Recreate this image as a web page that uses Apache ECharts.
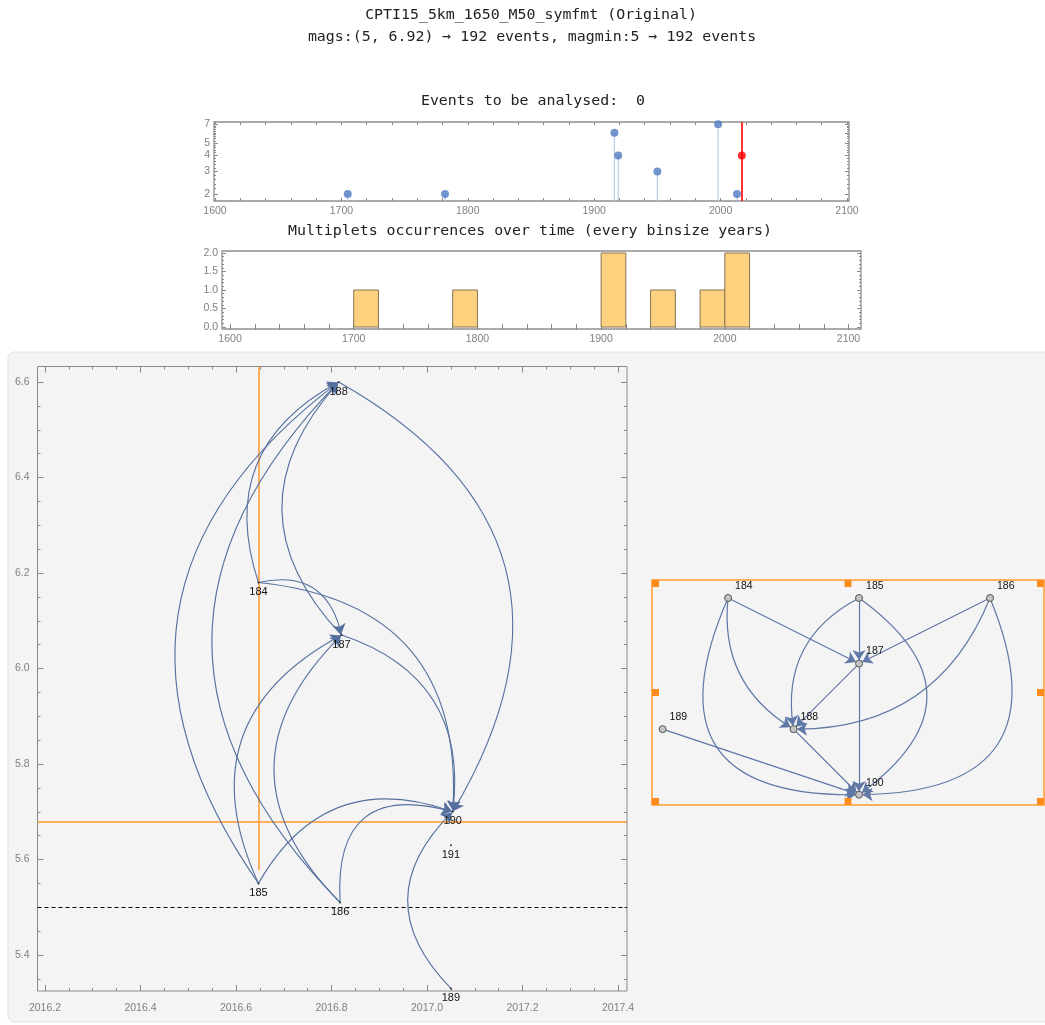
<!DOCTYPE html>
<html><head><meta charset="utf-8">
<script src="https://cdn.jsdelivr.net/npm/echarts@6/dist/echarts.min.js"></script>
<style>html,body{margin:0;padding:0;background:#fff}#c{width:1045px;height:1025px}</style>
</head><body><div id="c"></div>
<script>
// ---------------- data ----------------
const titleLine1 = 'CPTI15_5km_1650_M50_symfmt (Original)';
const titleLine2 = 'mags:(5, 6.92) \u2192 192 events, magmin:5 \u2192 192 events';
const stemTitle = 'Events to be analysed:  0';
const histTitle = 'Multiplets occurrences over time (every binsize years)';

const stemYears = [1705, 1782, 1916, 1919, 1950, 1998, 2013];
const stemSizes = [2, 2, 6, 4, 3, 7, 2];
const currentYear = 2016.8;
const currentSize = 4;
const stemYTicks = [2, 3, 4, 5, 6, 7];
const yearTicks = [1600, 1700, 1800, 1900, 2000, 2100];

const binStarts = [1700, 1780, 1900, 1940, 1980, 2000];
const binCounts = [1, 1, 2, 1, 1, 2];
const binSize = 20;
const histYTicks = [0, 0.5, 1, 1.5, 2];

const eventIds   = ['184', '185', '186', '187', '188', '189', '190', '191'];
const eventTimes = [2016.647, 2016.647, 2016.818, 2016.821, 2016.815, 2017.050, 2017.054, 2017.050];
const eventMags  = [6.18, 5.55, 5.51, 6.07, 6.60, 5.33, 5.70, 5.63];
const edgeFrom = ['184', '184', '184', '185', '185', '185', '186', '186', '186', '187', '187', '188', '189'];
const edgeTo   = ['187', '188', '190', '187', '188', '190', '187', '188', '190', '188', '190', '190', '190'];

const timeTicks = [2016.2, 2016.4, 2016.6, 2016.8, 2017.0, 2017.2, 2017.4];
const magTicks = [5.4, 5.6, 5.8, 6.0, 6.2, 6.4, 6.6];
const refTime = 2016.647;
const refTimeMagLow = 5.578;
const refMag = 5.679;
const magThreshold = 5.5;

const layerNodes = ['184', '185', '186', '187', '188', '189', '190'];
const layerCol = [1, 3, 5, 3, 2, 0, 3];
const layerRow = [0, 0, 0, 1, 2, 2, 3];

// ---------------- styling ----------------
const mainCurve = {'184-187':0.5,'184-188':0.42,'184-190':0.48,'185-187':0.47,'185-188':0.48,'185-190':0.42,
  '186-187':0.5,'186-188':0.49,'186-190':0.7,'187-188':0.46,'187-190':0.41,'188-190':0.51,'189-190':0.5};
const layerCurve = {'184-188':-0.32,'184-190':-0.78,'185-188':-0.36,'185-190':0.69,'186-188':0.34,'186-190':0.74};

const STEM_X = [1599.2, 2101.6], STEM_Y = [0.247, 0.862];
const HIST_X = [1593.5, 2110.1], HIST_Y = [-0.054, 2.054];
const MAIN_X = [2016.1843, 2017.4188], MAIN_Y = [5.3246, 6.6325];

function range(a, b, s) { const r = []; for (let v = a; v <= b + 1e-9; v += s) r.push(+v.toFixed(6)); return r; }
const labelFont = {fontFamily: 'Liberation Sans, Arial, sans-serif', color: '#808080'};

function ax(dim, grid, pos, ext, labels, ticks, len, fmt, fs, margin) {
  return {
    type: 'value', gridIndex: grid, position: pos, min: ext[0], max: ext[1], scale: true,
    axisLine: {show: false}, splitLine: {show: false},
    axisTick: {show: true, inside: true, length: len, customValues: ticks, lineStyle: {color: '#8a8a8a', width: 1}},
    axisLabel: labels ? Object.assign({show: true, customValues: labels, formatter: fmt, fontSize: fs, margin: margin,
      hideOverlap: false, showMinLabel: true, showMaxLabel: true}, labelFont) : {show: false}
  };
}
const f0 = v => String(Math.round(v));
const f1 = v => (+v).toFixed(1);
const flog = v => String(Math.round(Math.pow(10, v)));

const stemMinor = range(1.8, 7.4, 0.2).map(v => Math.log10(v));
const stemMajor = stemYTicks.map(v => Math.log10(v));
const xAxes = [
  ax('x', 0, 'bottom', STEM_X, yearTicks, range(1600, 2100, 20), 3, f0, 10.5, 5),   //0
  ax('x', 0, 'top', STEM_X, null, range(1600, 2100, 20), 3),                         //1
  ax('x', 1, 'bottom', HIST_X, yearTicks, range(1600, 2100, 20), 3, f0, 10.5, 5),   //2
  ax('x', 1, 'top', HIST_X, null, range(1600, 2100, 20), 3),                         //3
  ax('x', 2, 'bottom', MAIN_X, timeTicks, timeTicks, 6, f1, 10.5, 12),               //4
  ax('x', 2, 'bottom', MAIN_X, null, range(2016.2, 2017.4, 0.05), 3),               //5
  ax('x', 2, 'top', MAIN_X, null, timeTicks, 6),                                     //6
  ax('x', 2, 'top', MAIN_X, null, range(2016.2, 2017.4, 0.05), 3),                  //7
  {type: 'value', gridIndex: 3, min: 0, max: 5, show: false}                         //8
];
const yAxes = [
  ax('y', 0, 'left', STEM_Y, stemMajor, stemMajor, 4, flog, 10.5, 4),              //0
  ax('y', 0, 'left', STEM_Y, null, stemMinor, 2),                                    //1
  ax('y', 0, 'right', STEM_Y, null, stemMajor, 4),                                   //2
  ax('y', 0, 'right', STEM_Y, null, stemMinor, 2),                                   //3
  ax('y', 1, 'left', HIST_Y, histYTicks, histYTicks, 4, f1, 10.5, 4),                //4
  ax('y', 1, 'left', HIST_Y, null, range(0, 2, 0.1), 2),                             //5
  ax('y', 1, 'right', HIST_Y, null, histYTicks, 4),                                  //6
  ax('y', 1, 'right', HIST_Y, null, range(0, 2, 0.1), 2),                            //7
  ax('y', 2, 'left', MAIN_Y, magTicks, magTicks, 6, f1, 10.5, 8),                    //8
  ax('y', 2, 'left', MAIN_Y, null, range(5.35, 6.6, 0.05), 3),                       //9
  ax('y', 2, 'right', MAIN_Y, null, magTicks, 6),                                    //10
  ax('y', 2, 'right', MAIN_Y, null, range(5.35, 6.6, 0.05), 3),                      //11
  {type: 'value', gridIndex: 3, min: 0, max: 3, inverse: true, show: false}          //12
];

const stemData = stemYears.map((y, i) => [y, Math.log10(stemSizes[i])]);
const histData = binStarts.map((s, i) => [s, s + binSize, binCounts[i]]);

const mainNodes = eventIds.map((id, i) => ({name: id, value: [eventTimes[i], eventMags[i]]}));
const mainLinks = edgeFrom.map((s, i) => ({source: s, target: edgeTo[i],
  lineStyle: {curveness: mainCurve[s + '-' + edgeTo[i]] || 0}}));
const layerData = layerNodes.map((id, i) => ({name: id, value: [layerCol[i], layerRow[i]]}));
const layerLinks = edgeFrom.map((s, i) => ({source: s, target: edgeTo[i],
  lineStyle: {curveness: layerCurve[s + '-' + edgeTo[i]] || 0}}));

const mono = '"DejaVu Sans Mono", monospace';
function txt(t, x, y) {
  return {type: 'text', x: x, y: y, z: 50, silent: true,
    style: {text: t, fontSize: 14.9, fontFamily: mono, fill: '#222', align: 'center', verticalAlign: 'middle',
            textAlign: 'center', textVerticalAlign: 'middle'}};
}
const FR = {x: 652, y: 580, w: 392, h: 225};
const hs = 7;
const handlePts = [[FR.x, FR.y], [FR.x + FR.w / 2 - hs / 2, FR.y], [FR.x + FR.w - hs, FR.y],
  [FR.x, FR.y + FR.h / 2 - hs / 2], [FR.x + FR.w - hs, FR.y + FR.h / 2 - hs / 2],
  [FR.x, FR.y + FR.h - hs], [FR.x + FR.w / 2 - hs / 2, FR.y + FR.h - hs], [FR.x + FR.w - hs, FR.y + FR.h - hs]];

const graphicEls = [
  {type: 'rect', z: -10, silent: true, shape: {x: 8, y: 352, width: 1050, height: 670, r: 6},
   style: {fill: '#f4f4f4', stroke: '#e2e2e2', lineWidth: 1}},
  txt(titleLine1, 531, 15), txt(titleLine2, 532, 37), txt(stemTitle, 533, 101), txt(histTitle, 530, 231),
  {type: 'rect', z: 40, silent: true, shape: {x: FR.x, y: FR.y, width: FR.w, height: FR.h},
   style: {fill: 'none', stroke: '#ff9a2e', lineWidth: 1.5}}
].concat(handlePts.map(p => ({type: 'rect', z: 41, silent: true, shape: {x: p[0], y: p[1], width: hs, height: hs},
   style: {fill: '#ff8c1a'}})));

const option = {
  animation: false,
  backgroundColor: '#fff',
  graphic: {elements: graphicEls},
  grid: [
    {left: 214, top: 122, width: 635, height: 79, show: true, borderColor: '#8f8f8f', borderWidth: 1.3, backgroundColor: '#fff'},
    {left: 222, top: 251, width: 639, height: 78, show: true, borderColor: '#8f8f8f', borderWidth: 1.3, backgroundColor: '#fff'},
    {left: 37.5, top: 366.5, width: 589.5, height: 624.5, show: true, borderColor: '#8a8a8a', borderWidth: 1, backgroundColor: 'transparent'},
    {left: 662.6, top: 598, width: 327.4, height: 196.7, show: false}
  ],
  xAxis: xAxes,
  yAxis: yAxes,
  series: [
    {type: 'custom', xAxisIndex: 0, yAxisIndex: 0, data: stemData, silent: true, z: 2,
     renderItem: (p, api) => {
       const a = api.coord([api.value(0), STEM_Y[0]]), b = api.coord([api.value(0), api.value(1)]);
       return {type: 'line', shape: {x1: a[0], y1: a[1], x2: b[0], y2: b[1]}, style: {stroke: '#b9cbe9', lineWidth: 1.2}};
     }},
    {type: 'scatter', xAxisIndex: 0, yAxisIndex: 0, data: stemData, symbolSize: 8, z: 3, silent: true,
     itemStyle: {color: '#4f7ac0'}},
    {type: 'scatter', xAxisIndex: 0, yAxisIndex: 0, data: [[currentYear, Math.log10(currentSize)]], symbolSize: 8, z: 4, silent: true,
     itemStyle: {color: '#ff0000'},
     markLine: {silent: true, symbol: 'none', label: {show: false}, lineStyle: {color: '#ff0000', width: 1.6, type: 'solid'},
                data: [{xAxis: currentYear}]}},
    {type: 'custom', xAxisIndex: 2, yAxisIndex: 4, data: histData, silent: true, encode: {x: [0, 1], y: 2},
     renderItem: (p, api) => {
       const a = api.coord([api.value(0), api.value(2)]), b = api.coord([api.value(1), 0]);
       return {type: 'rect', shape: {x: a[0], y: a[1], width: b[0] - a[0], height: b[1] - a[1]},
               style: {fill: '#fed17f', stroke: '#8a7452', lineWidth: 1}};
     }},
    {type: 'line', xAxisIndex: 4, yAxisIndex: 8, data: [[refTime, refMag]], symbol: 'none', lineStyle: {width: 0}, silent: true, z: 1,
     markLine: {silent: true, symbol: 'none', label: {show: false}, animation: false,
       data: [
         {yAxis: refMag, lineStyle: {color: '#ff9a2e', width: 1.5, type: 'solid'}},
         [{coord: [refTime, MAIN_Y[1]], lineStyle: {color: '#ff9a2e', width: 1.5, type: 'solid'}}, {coord: [refTime, refTimeMagLow]}],
         {yAxis: magThreshold, lineStyle: {color: '#000', width: 1.2, type: [4, 3]}}
       ]}},
    {type: 'graph', coordinateSystem: 'cartesian2d', xAxisIndex: 4, yAxisIndex: 8, layout: 'none', z: 5,
     data: mainNodes, links: mainLinks, symbol: 'circle', symbolSize: 2,
     itemStyle: {color: '#333'},
     label: {show: true, position: 'bottom', distance: 3, fontSize: 11, color: '#111', fontFamily: 'Liberation Sans, Arial, sans-serif'},
     edgeSymbol: ['none', 'arrow'], edgeSymbolSize: [0, 10],
     lineStyle: {color: '#55709f', width: 1.1, opacity: 1},
     emphasis: {disabled: true}, silent: true},
    {type: 'graph', coordinateSystem: 'cartesian2d', xAxisIndex: 8, yAxisIndex: 12, layout: 'none', z: 5,
     data: layerData, links: layerLinks, symbol: 'circle', symbolSize: 7,
     itemStyle: {color: '#c4c4c4', borderColor: '#555', borderWidth: 1},
     label: {show: true, position: 'right', distance: 3, offset: [0, -12], fontSize: 10.5, color: '#111', fontFamily: 'Liberation Sans, Arial, sans-serif'},
     edgeSymbol: ['none', 'arrow'], edgeSymbolSize: [0, 10],
     lineStyle: {color: '#5f78a6', width: 1.2, opacity: 1},
     emphasis: {disabled: true}, silent: true}
  ]
};
const chart = echarts.init(document.getElementById('c'), null, {renderer: 'canvas'});
chart.setOption(option);
</script></body></html>
